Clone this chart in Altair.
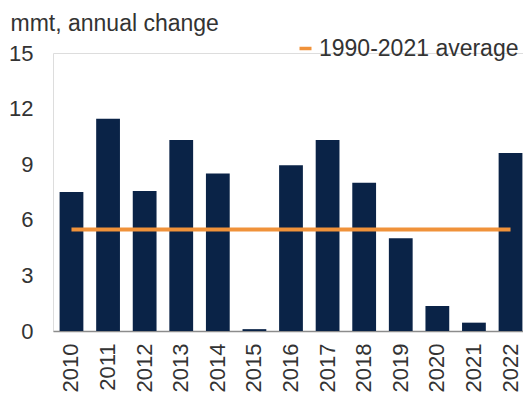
import altair as alt
import pandas as pd

years = ["2010", "2011", "2012", "2013", "2014", "2015", "2016",
         "2017", "2018", "2019", "2020", "2021", "2022"]
changes = [7.5, 11.45, 7.55, 10.3, 8.5, 0.1, 8.95, 10.3, 8.0, 5.0, 1.35, 0.45, 9.6]
avg_label = "1990-2021 average"
avg_value = 5.48
y_ticks = [0, 3, 6, 9, 12, 15]
y_title = "mmt, annual change"

FONT = "Liberation Sans"
TXT = "#333333"
NAVY = "#0a2347"
ORANGE = "#f0923a"

bars_df = pd.DataFrame({"year": years, "change": changes})
avg_df = pd.DataFrame({"start": [years[0]], "end": [years[-1]],
                       "value": [avg_value], "series": [avg_label]})

xscale = alt.Scale(paddingInner=0.35, paddingOuter=0.18, range=[0, 476])

bars = alt.Chart(bars_df).mark_bar(color=NAVY).encode(
    x=alt.X("year:N", sort=years, scale=xscale,
            axis=alt.Axis(title=None, labelAngle=-90, labelFontSize=22,
                          labelFont=FONT, labelColor=TXT, labelPadding=12,
                          ticks=False, domainColor="#8c8c8c", domainWidth=1.5)),
    y=alt.Y("change:Q", scale=alt.Scale(domain=[0, 15], nice=False),
            axis=alt.Axis(title=y_title, titleAngle=0, titleX=-43, titleY=-30,
                          titleAlign="left", titleBaseline="middle",
                          titleFontSize=23, titleFontWeight="normal",
                          titleFont=FONT, titleColor=TXT,
                          values=y_ticks, grid=False, domain=False,
                          ticks=False, labelPadding=20, labelFontSize=22,
                          labelFont=FONT, labelColor=TXT)),
)

avg_rule = alt.Chart(avg_df).mark_rule(strokeWidth=4).encode(
    x=alt.X("start:N", sort=years, title=None),
    x2="end:N",
    y=alt.Y("value:Q", title=y_title),
    color=alt.Color("series:N", scale=alt.Scale(range=[ORANGE]),
                    legend=alt.Legend(title=None, orient="none", legendX=241,
                                      legendY=-16, symbolType="stroke",
                                      symbolSize=144, symbolStrokeWidth=3.5,
                                      labelFontSize=23, labelFont=FONT,
                                      labelColor=TXT, labelOffset=2, padding=0,
                                      labelLimit=400)),
)

chart = alt.layer(bars, avg_rule).properties(
    width=470,
    height=278,
    padding={"left": 45, "top": 45, "right": 0, "bottom": 64},
    autosize=alt.AutoSizeParams(type="none"),
).configure_view(stroke=None).configure(background="white")

chart.save("out.html", embed_options={"renderer": "svg", "actions": False})
